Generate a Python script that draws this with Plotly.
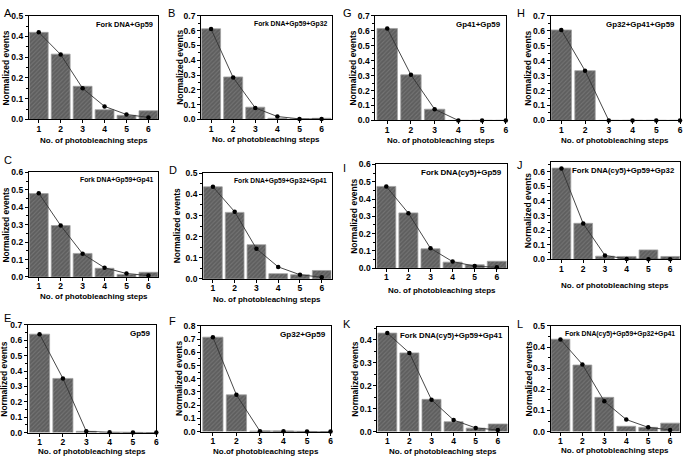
import plotly.graph_objects as go

W, H = 685, 463

steps = [1, 2, 3, 4, 5, 6]

bars_A = [0.420, 0.315, 0.160, 0.047, 0.020, 0.042]
line_A = [0.420, 0.313, 0.150, 0.063, 0.024, 0.010]
bars_B = [0.612, 0.287, 0.083, 0.008, 0.004, 0.008]
line_B = [0.610, 0.283, 0.078, 0.020, 0.004, 0.003]
bars_G = [0.615, 0.305, 0.075, 0.0, 0.0, 0.0]
line_G = [0.615, 0.305, 0.075, 0.0, 0.0, 0.0]
bars_H = [0.605, 0.333, 0.0, 0.0, 0.0, 0.0]
line_H = [0.605, 0.333, 0.0, 0.0, 0.0, 0.0]
bars_C = [0.478, 0.295, 0.135, 0.050, 0.015, 0.027]
line_C = [0.480, 0.295, 0.133, 0.053, 0.020, 0.008]
bars_D = [0.436, 0.315, 0.162, 0.025, 0.020, 0.040]
line_D = [0.436, 0.318, 0.143, 0.057, 0.020, 0.008]
bars_I = [0.473, 0.320, 0.112, 0.035, 0.020, 0.040]
line_I = [0.473, 0.318, 0.115, 0.038, 0.012, 0.005]
bars_J = [0.625, 0.247, 0.022, 0.020, 0.065, 0.020]
line_J = [0.622, 0.245, 0.027, 0.003, 0.001, 0.001]
bars_E = [0.640, 0.352, 0.008, 0.0, 0.0, 0.0]
line_E = [0.640, 0.352, 0.008, 0.002, 0.001, 0.0]
bars_F = [0.715, 0.278, 0.004, 0.004, 0.0, 0.0]
line_F = [0.715, 0.278, 0.003, 0.003, 0.001, 0.0]
bars_K = [0.428, 0.342, 0.140, 0.043, 0.015, 0.033]
line_K = [0.428, 0.342, 0.138, 0.050, 0.016, 0.007]
bars_L = [0.437, 0.315, 0.162, 0.025, 0.020, 0.040]
line_L = [0.436, 0.318, 0.143, 0.057, 0.020, 0.008]

titles = {
    "A": "Fork DNA+Gp59", "B": "Fork DNA+Gp59+Gp32", "G": "Gp41+Gp59",
    "H": "Gp32+Gp41+Gp59", "C": "Fork DNA+Gp59+Gp41", "D": "Fork DNA+Gp59+Gp32+Gp41",
    "I": "Fork DNA(cy5)+Gp59", "J": "Fork DNA(cy5)+Gp59+Gp32", "E": "Gp59",
    "F": "Gp32+Gp59", "K": "Fork DNA(cy5)+Gp59+Gp41", "L": "Fork DNA(cy5)+Gp59+Gp32+Gp41",
}
xtitle = "No. of photobleaching steps"
xtitle_F = "No.of photobleaching steps"
ytitle = "Normalized events"

data = {
    "A": (bars_A, line_A), "B": (bars_B, line_B), "G": (bars_G, line_G), "H": (bars_H, line_H),
    "C": (bars_C, line_C), "D": (bars_D, line_D), "I": (bars_I, line_I), "J": (bars_J, line_J),
    "E": (bars_E, line_E), "F": (bars_F, line_F), "K": (bars_K, line_K), "L": (bars_L, line_L),
}

# layout: left, right, top, bottom (px), y max, x range, title font, letter pos, ytitle x, xtitle y
panels = {
    "A": dict(box=(29, 159, 11, 117), ymax=0.5, xr=(0.55, 6.45), tf=7.4, let=(2, 0), yt=6, xt=138),
    "B": dict(box=(202, 333, 11, 117), ymax=0.7, xr=(0.55, 6.45), tf=6.8, let=(167, 0), yt=180, xt=137),
    "G": dict(box=(377, 508, 11, 118), ymax=0.7, xr=(0.5, 6.0), tf=7.9, let=(342, 0), yt=355, xt=138),
    "H": dict(box=(553, 683, 11, 118), ymax=0.7, xr=(0.55, 6.0), tf=7.9, let=(517, 0), yt=530, xt=138),
    "C": dict(box=(29, 159, 171, 278), ymax=0.6, xr=(0.55, 6.45), tf=6.8, let=(2, 150), yt=6, xt=298),
    "D": dict(box=(204, 333, 172, 280), ymax=0.5, xr=(0.55, 6.45), tf=6.7, let=(168, 160), yt=178, xt=301),
    "I": dict(box=(378, 509, 163, 269), ymax=0.6, xr=(0.55, 6.45), tf=8.0, let=(343, 158), yt=356, xt=292),
    "J": dict(box=(553, 683, 160, 260), ymax=0.67, xr=(0.5, 6.45), tf=7.8, let=(517, 155), yt=531, xt=287),
    "E": dict(box=(28, 157, 327, 437), ymax=0.7, xr=(0.5, 6.0), tf=8.0, let=(2, 312), yt=4, xt=456),
    "F": dict(box=(202, 332, 328, 436), ymax=0.8, xr=(0.5, 6.0), tf=8.1, let=(168, 315), yt=180, xt=456),
    "K": dict(box=(379, 510, 329, 436), ymax=0.455, xr=(0.55, 6.45), tf=7.8, let=(343, 318), yt=357, xt=456),
    "L": dict(box=(553, 683, 328, 436), ymax=0.5, xr=(0.55, 6.45), tf=6.8, let=(517, 318), yt=531, xt=455),
}

FONT = "Liberation Sans, Arial, sans-serif"
fig = go.Figure()
annotations = []

def px_x(v):
    return v / W

def px_y(v):
    return 1 - v / H

for i, (key, p) in enumerate(panels.items(), start=1):
    L, R, T, B = p["box"]
    bars, line = data[key]
    xa = "x" if i == 1 else f"x{i}"
    ya = "y" if i == 1 else f"y{i}"
    fig.add_trace(go.Bar(
        x=steps, y=bars, width=0.86, xaxis=xa, yaxis=ya,
        marker=dict(color="#5e5e5e", line=dict(color="#a0a0a0", width=0.8),
                    pattern=dict(shape="/", fgcolor="#8c8c8c", size=3, solidity=0.35)),
        showlegend=False,
    ))
    fig.add_trace(go.Scatter(
        x=steps, y=line, xaxis=xa, yaxis=ya, mode="lines+markers",
        line=dict(color="#333333", width=0.9),
        marker=dict(color="black", size=4.5),
        cliponaxis=False, showlegend=False,
    ))
    axname = "xaxis" if i == 1 else f"xaxis{i}"
    ayname = "yaxis" if i == 1 else f"yaxis{i}"
    fig.update_layout(**{
        axname: dict(domain=[px_x(L), px_x(R)], range=list(p["xr"]), anchor=ya,
                     tickmode="array", tickvals=steps, ticks="outside", ticklen=3,
                     tickwidth=1, tickcolor="black", showline=True, linecolor="black",
                     linewidth=1, mirror=True, showgrid=False, zeroline=False,
                     ticklabelstandoff=-2,
                     tickfont=dict(family=FONT, size=8.5, color="black", weight="bold")),
        ayname: dict(domain=[px_y(B), px_y(T)], range=[0, p["ymax"]], anchor=xa,
                     dtick=0.1, tick0=0, tickformat=".1f", ticks="outside", ticklen=3,
                     tickwidth=1, tickcolor="black", showline=True, linecolor="black",
                     linewidth=1, mirror=True, showgrid=False, zeroline=False,
                     minor=dict(dtick=0.05, ticks="outside", ticklen=2, tickcolor="black"),
                     tickfont=dict(family=FONT, size=8.5, color="black", weight="bold")),
    })
    annotations.append(dict(x=px_x(p["let"][0]), y=px_y(p["let"][1]), xref="paper", yref="paper",
                            xanchor="left", yanchor="top", text=key, showarrow=False,
                            font=dict(family=FONT, size=11, color="black")))
    annotations.append(dict(x=px_x(R - 3), y=px_y(T + 2), xref="paper", yref="paper",
                            xanchor="right", yanchor="top", text=titles[key], showarrow=False,
                            font=dict(family=FONT, size=p["tf"], color="black", weight="bold")))
    annotations.append(dict(x=px_x(p["yt"]), y=px_y((T + B) / 2), xref="paper", yref="paper",
                            xanchor="center", yanchor="middle", text=ytitle, textangle=-90,
                            showarrow=False,
                            font=dict(family=FONT, size=8.5, color="black", weight="bold")))
    annotations.append(dict(x=px_x((L + R) / 2), y=px_y(p["xt"]), xref="paper", yref="paper",
                            xanchor="center", yanchor="middle",
                            text=xtitle_F if key == "F" else xtitle, showarrow=False,
                            font=dict(family=FONT, size=8, color="black", weight="bold")))

fig.update_layout(width=W, height=H, margin=dict(l=0, r=0, t=0, b=0),
                  paper_bgcolor="white", plot_bgcolor="white", annotations=annotations,
                  bargap=0.1)

fig.write_html("out.html", config={"displayModeBar": False},
               post_script="document.body.style.margin='0';document.body.style.overflow='hidden';")
